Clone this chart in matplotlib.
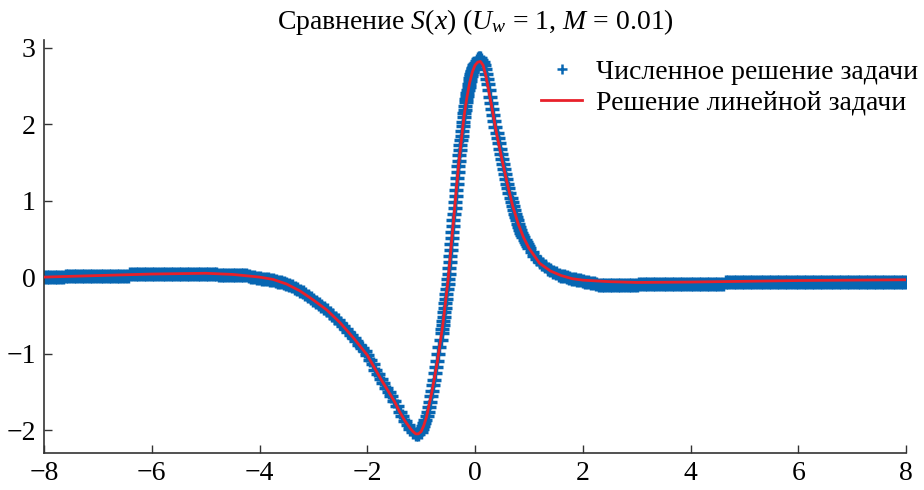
import matplotlib
matplotlib.use("Agg")
import matplotlib.pyplot as plt
from matplotlib.lines import Line2D
import numpy as np

plt.rcParams['font.family'] = ['Liberation Serif', 'DejaVu Serif']
plt.rcParams['mathtext.fontset'] = 'custom'
plt.rcParams['mathtext.rm'] = 'Liberation Serif'
plt.rcParams['mathtext.it'] = 'Liberation Serif:italic'

# numerical solution
x_a = np.linspace(-8.0, -4.0, 81)
s_a = [0.0] * 8 + [0.02] * 24 + [0.035] * 24 + [0.045] * 9 + [0.03] * 11 + \
      [0.01, 0.0, -0.005, -0.01, -0.015]
x_b = np.linspace(-3.95, -2.5, 30)
s_b = [-0.02, -0.025, -0.03, -0.035, -0.04, -0.05, -0.06, -0.07, -0.08, -0.09,
       -0.105, -0.12, -0.14, -0.16, -0.18, -0.20, -0.225, -0.25, -0.275, -0.30,
       -0.325, -0.35, -0.375, -0.40, -0.435, -0.47, -0.50, -0.53, -0.565, -0.60]
x_c = np.linspace(-2.45, -1.0, 30)
s_c = [-0.64, -0.68, -0.72, -0.76, -0.80, -0.84, -0.89, -0.93, -0.97, -1.02,
       -1.08, -1.14, -1.21, -1.27, -1.33, -1.39, -1.45, -1.50, -1.56, -1.62,
       -1.69, -1.76, -1.82, -1.88, -1.94, -1.98, -2.02, -2.05, -2.05, -2.03]
x_d = np.linspace(-0.98, -0.62, 19)
s_d = [-1.98, -1.95, -1.91, -1.87, -1.82, -1.76, -1.70, -1.63, -1.56, -1.49,
       -1.41, -1.34, -1.26, -1.18, -1.10, -1.01, -0.92, -0.82, -0.73]
x_e = np.linspace(-0.61, 0.0, 62)
s_e = [-0.68, -0.63, -0.575, -0.52, -0.46, -0.40, -0.34, -0.28, -0.22, -0.16, -0.095,
       -0.03, 0.045, 0.12, 0.20, 0.28, 0.36, 0.43, 0.51, 0.59, 0.665,
       0.74, 0.82, 0.90, 0.98, 1.06, 1.14, 1.22, 1.30, 1.37, 1.45,
       1.52, 1.59, 1.66, 1.73, 1.79, 1.85, 1.91, 1.97, 2.03, 2.09,
       2.14, 2.19, 2.24, 2.29, 2.33, 2.37, 2.41, 2.45, 2.49, 2.53,
       2.57, 2.60, 2.63, 2.65, 2.68, 2.70, 2.72, 2.74, 2.75, 2.77,
       2.78]
x_f = np.linspace(0.02, 1.0, 50)
s_f = [2.80, 2.83, 2.85, 2.86, 2.86, 2.84, 2.81, 2.77, 2.72, 2.66,
       2.59, 2.52, 2.44, 2.36, 2.28, 2.20, 2.12, 2.04, 1.96, 1.89,
       1.82, 1.75, 1.68, 1.61, 1.55, 1.48, 1.41, 1.35, 1.28, 1.22,
       1.16, 1.10, 1.04, 0.98, 0.93, 0.88, 0.83, 0.78, 0.74, 0.70,
       0.66, 0.62, 0.58, 0.55, 0.52, 0.49, 0.46, 0.43, 0.40, 0.38]
x_g = np.linspace(1.05, 2.0, 20)
s_g = [0.33, 0.28, 0.24, 0.20, 0.17, 0.14, 0.11, 0.09, 0.07, 0.05,
       0.03, 0.02, 0.01, 0.00, -0.01, -0.02, -0.03, -0.04, -0.04, -0.05]
x_h = np.linspace(2.05, 8.0, 120)
s_h = [-0.06, -0.07, -0.075, -0.08, -0.085] + [-0.105] * 15 + [-0.085] * 32 + [-0.06] * 68

x_num = np.concatenate([x_a, x_b, x_c, x_d, x_e, x_f, x_g, x_h])
s_num = np.concatenate([s_a, s_b, s_c, s_d, s_e, s_f, s_g, s_h])

# linear solution
x_lin = [-8, -7, -6, -5, -4.5, -4, -3.75, -3.5, -3.25, -3, -2.75, -2.5, -2.25, -2, -1.75, -1.5,
         -1.4, -1.3, -1.2, -1.15, -1.1, -1.05, -1.0, -0.95, -0.9,
         -0.8, -0.7, -0.6, -0.5, -0.4, -0.3, -0.2, -0.15, -0.1, -0.05, 0,
         0.05, 0.1, 0.15, 0.2, 0.3, 0.4, 0.5, 0.6, 0.7, 0.8, 0.9, 1.0,
         1.2, 1.4, 1.6, 1.8, 2.0, 2.5, 3, 4, 5, 6, 7, 8]
s_lin = [0.0, 0.02, 0.04, 0.05, 0.035, 0.0, -0.03, -0.09, -0.18, -0.30, -0.43, -0.60, -0.80, -1.02, -1.33, -1.62,
         -1.76, -1.88, -1.98, -2.02, -2.05, -2.05, -2.02, -1.94, -1.83,
         -1.50, -1.11, -0.64, -0.04, 0.73, 1.50, 2.12, 2.35, 2.54, 2.68, 2.77,
         2.81, 2.82, 2.77, 2.64, 2.27, 1.88, 1.54, 1.22, 0.93, 0.70, 0.52, 0.38,
         0.18, 0.08, 0.02, -0.02, -0.04, -0.06, -0.07, -0.065, -0.055, -0.045, -0.04, -0.035]

blue = '#0766b2'
red = '#e8202a'

fig = plt.figure(figsize=(9.24, 4.9), dpi=100)
ax = fig.add_axes([44 / 924, 1 - 453 / 490, 862 / 924, 413 / 490])

ax.plot(x_num, s_num, linestyle='none', marker='+', ms=9.5, mew=2.5, color=blue, zorder=2)
ax.plot(x_lin, s_lin, color=red, lw=2.0, zorder=3)

ax.set_xlim(-8, 8)
ax.set_ylim(-2.3, 3.1)
ax.set_xticks(np.arange(-8, 9, 2))
ax.set_yticks([-2, -1, 0, 1, 2, 3])
ax.spines['top'].set_visible(False)
ax.spines['right'].set_visible(False)
for s in ['left', 'bottom']:
    ax.spines[s].set_color('#333333')
    ax.spines[s].set_linewidth(1.2)
ax.tick_params(direction='in', length=6, width=1.0, color='#333333', labelsize=20, pad=6)

ax.set_title('Сравнение $S$($x$) ($U_w$ = 1, $M$ = 0.01)', fontsize=20, pad=8)

handles = [Line2D([], [], linestyle='none', marker='+', ms=7, mew=1.8, color=blue),
           Line2D([], [], color=red, lw=2.0)]
ax.legend(handles, ['Численное решение задачи', 'Решение линейной задачи'],
          loc='upper right', bbox_to_anchor=(1.006, 0.902), bbox_transform=fig.transFigure,
          frameon=False, fontsize=20, handlelength=1.5, handletextpad=0.5,
          labelspacing=0.2, borderaxespad=0)

fig.savefig('out.png', dpi=100)
